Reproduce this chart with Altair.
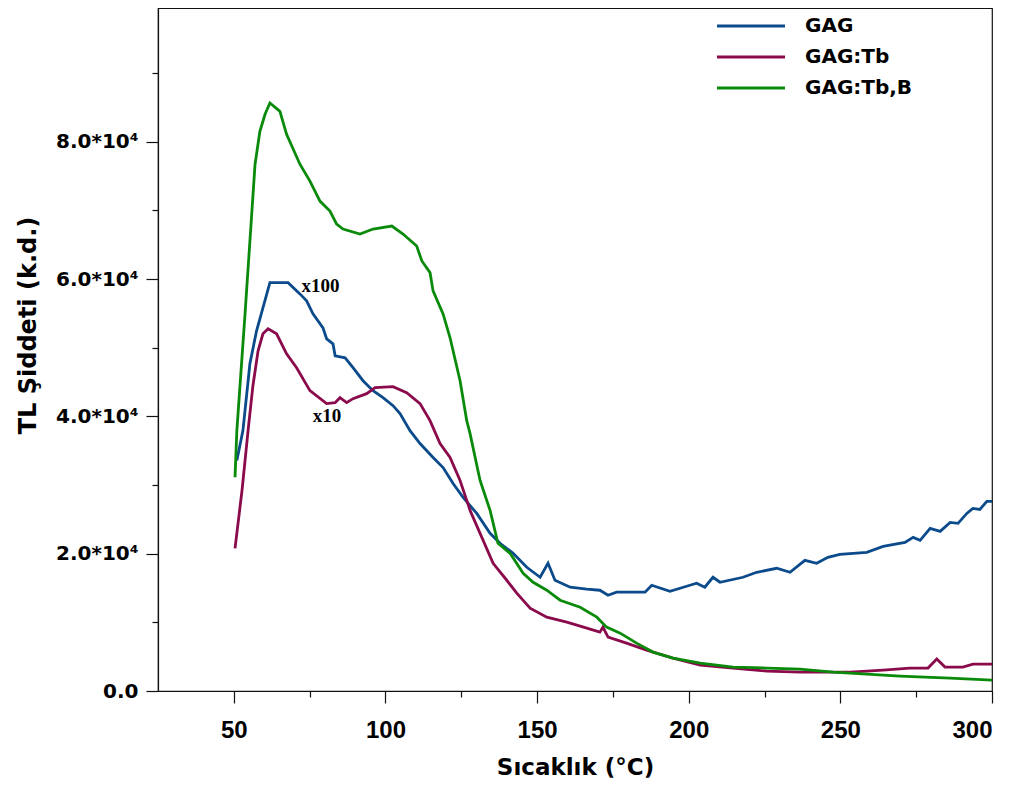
import altair as alt
import pandas as pd

# ---- data ----
gag_x = [51.0, 53.0, 55.3, 57.5, 59.6, 61.9, 67.9, 71.8, 74.0, 76.1, 79.4, 80.6, 82.7, 83.4,
         86.7, 89.3, 92.6, 95.9, 99.2, 102.5, 104.8, 108.1, 111.4, 115.7, 119.0, 122.3, 125.6,
         130.1, 134.5, 137.8, 142.1, 146.6, 151.0, 153.6, 155.9, 160.9, 166.4, 170.7, 173.4,
         176.2, 185.6, 187.8, 193.8, 200.4, 202.6, 205.3, 208.0, 210.3, 217.9, 222.4, 229.0,
         233.4, 238.3, 242.2, 245.9, 249.8, 258.7, 264.1, 271.3, 274.0, 276.3, 279.6, 282.9,
         286.2, 288.8, 291.7, 293.7, 296.0, 298.3, 300.0]
gag_y = [33576, 37936, 47675, 52471, 55814, 59492, 59492, 57849, 56832, 54942, 52907, 51309,
         50582, 48838, 48547, 47093, 45204, 43750, 42733, 41570, 40407, 37936, 36047, 34012,
         32558, 30233, 28198, 25872, 22965, 21512, 20058, 18023, 16570, 18605, 16134, 15116,
         14826, 14680, 13954, 14390, 14390, 15407, 14535, 15407, 15698, 15116, 16570, 15843,
         16570, 17297, 17878, 17297, 19041, 18605, 19477, 19913, 20204, 21076, 21657, 22384,
         21948, 23692, 23256, 24564, 24419, 25872, 26599, 26454, 27617, 27617]

tb_x = [50.4, 52.7, 54.7, 56.3, 58.0, 59.6, 61.3, 64.1, 67.4, 70.7, 75.1, 80.6, 83.4, 85.0,
        87.2, 89.3, 93.8, 96.6, 102.5, 107.0, 111.4, 114.7, 118.0, 121.3, 124.6, 127.9, 131.2,
        135.5, 140.0, 143.3, 147.7, 153.2, 159.8, 166.4, 170.7, 171.7, 173.4, 179.5, 186.1,
        194.8, 203.8, 214.6, 225.8, 236.7, 253.2, 264.1, 272.9, 278.9, 281.8, 284.5, 290.4,
        293.7, 300.0]
tb_y = [20785, 29215, 37936, 44477, 49564, 52035, 52762, 52035, 49128, 47093, 43750, 41861,
        42006, 42733, 42006, 42588, 43314, 44186, 44332, 43460, 41861, 39390, 36047, 34012,
        30669, 26308, 22965, 18605, 16134, 14244, 12064, 10756, 10029, 9157, 8576, 9302, 7849,
        6977, 5959, 4797, 3779, 3343, 2907, 2762, 2762, 3052, 3343, 3343, 4651, 3488, 3488,
        3924, 3924]

tbb_x = [50.4, 51.0, 53.7, 55.9, 57.0, 58.6, 60.3, 61.9, 65.2, 67.4, 71.8, 75.1, 78.4, 81.7,
         83.9, 86.0, 91.6, 95.9, 102.1, 105.8, 110.3, 112.0, 114.7, 115.7, 119.0, 121.3, 124.6,
         126.8, 127.9, 131.2, 134.5, 137.1, 141.1, 145.4, 148.7, 153.2, 157.6, 164.2, 169.7,
         172.9, 177.4, 182.8, 188.2, 194.8, 203.8, 214.6, 225.8, 236.7, 247.6, 269.7, 286.2,
         300.0]
tbb_y = [31149, 37936, 54942, 69477, 76745, 81541, 84012, 85655, 84448, 81105, 76745, 74274,
         71367, 69913, 68024, 67297, 66570, 67297, 67733, 66570, 64826, 62646, 60946, 58285,
         54942, 51454, 45204, 39390, 37500, 30669, 26308, 21512, 20058, 17151, 15843, 14680,
         13227, 12209, 10756, 9302, 8430, 6977, 5669, 4797, 4070, 3488, 3343, 3198, 2762, 2180,
         1890, 1599]

series_names = ["GAG", "GAG:Tb", "GAG:Tb,B"]
series_colors = ["#0b4a8b", "#8a0a4c", "#0a8a0a"]

ann_x = [78.6, 80.7]
ann_y = [59000, 40100]
ann_text = ["x100", "x10"]

x_ticks = [50, 75, 100, 125, 150, 175, 200, 225, 250, 275, 300]
y_ticks = [0, 10000, 20000, 30000, 40000, 50000, 60000, 70000, 80000, 90000]

# ---- build table ----
rows = []
for name, xs, ys in zip(series_names, [gag_x, tb_x, tbb_x], [gag_y, tb_y, tbb_y]):
    for xv, yv in zip(xs, ys):
        rows.append({"T": xv, "I": yv, "Numune": name})
df = pd.DataFrame(rows)
ann = pd.DataFrame({"T": ann_x, "I": ann_y, "txt": ann_text})

xscale = alt.Scale(domain=[25, 300], nice=False, zero=False)
yscale = alt.Scale(domain=[0, 99500], nice=False)

x_axis = alt.Axis(
    title="Sıcaklık (°C)", values=x_ticks,
    labelExpr="datum.value % 50 == 0 ? datum.label : ''",
    tickSize={"condition": {"test": "datum.value % 50 == 0", "value": 12}, "value": 6},
    labelFont="Liberation Sans", labelFontWeight="bold", labelFontSize=24,
    labelPadding=15, labelColor="#000",
    titleFont="DejaVu Sans", titleFontWeight="bold", titleFontSize=23,
    titlePadding=14, titleColor="#000",
    grid=False, domainColor="#111", tickColor="#111", domainWidth=1.2, tickWidth=1.2,
)
y_axis = alt.Axis(
    title="TL Şiddeti (k.d.)", values=y_ticks,
    labelExpr="datum.value % 20000 == 0 ? (datum.value == 0 ? '0.0' : format(datum.value/10000, '.1f') + '*10⁴') : ''",
    tickSize={"condition": {"test": "datum.value % 20000 == 0", "value": 12}, "value": 6},
    labelFont="DejaVu Sans", labelFontWeight="bold", labelFontSize=20,
    labelPadding=8, labelColor="#000",
    titleFont="DejaVu Sans", titleFontWeight="bold", titleFontSize=24, titleColor="#000",
    titleX=-130, titleY=317, titleAlign="center", titleBaseline="middle", titleAngle=270,
    grid=False, domainColor="#111", tickColor="#111", domainWidth=1.2, tickWidth=1.2,
)

lines = alt.Chart(df).mark_line(strokeWidth=2.8).encode(
    x=alt.X("T:Q", scale=xscale, axis=x_axis),
    y=alt.Y("I:Q", scale=yscale, axis=y_axis),
    color=alt.Color(
        "Numune:N",
        scale=alt.Scale(domain=series_names, range=series_colors),
        legend=alt.Legend(
            title=None, orient="none", legendX=580, legendY=5,
            symbolType="M-3,0H3", symbolSize=514, symbolStrokeWidth=3,
            symbolFillColor="transparent",
            labelFont="DejaVu Sans", labelFontWeight="bold", labelFontSize=20,
            labelColor="#000", labelOffset=41, rowPadding=8, padding=0,
        ),
    ),
)

labels = alt.Chart(ann).mark_text(
    font="Liberation Serif", fontWeight="bold", fontSize=19, color="#000",
    align="center", baseline="middle",
).encode(
    x=alt.X("T:Q", scale=xscale),
    y=alt.Y("I:Q", scale=yscale),
    text="txt:N",
)

chart = alt.layer(lines, labels).properties(
    width=834, height=683,
    autosize=alt.AutoSizeParams(type="none"),
    padding={"left": 150, "top": 0, "right": 20, "bottom": 90},
    background="white",
).configure_view(stroke="#111", strokeWidth=1.2)

chart.save("out.html", embed_options={"renderer": "svg", "actions": False})
